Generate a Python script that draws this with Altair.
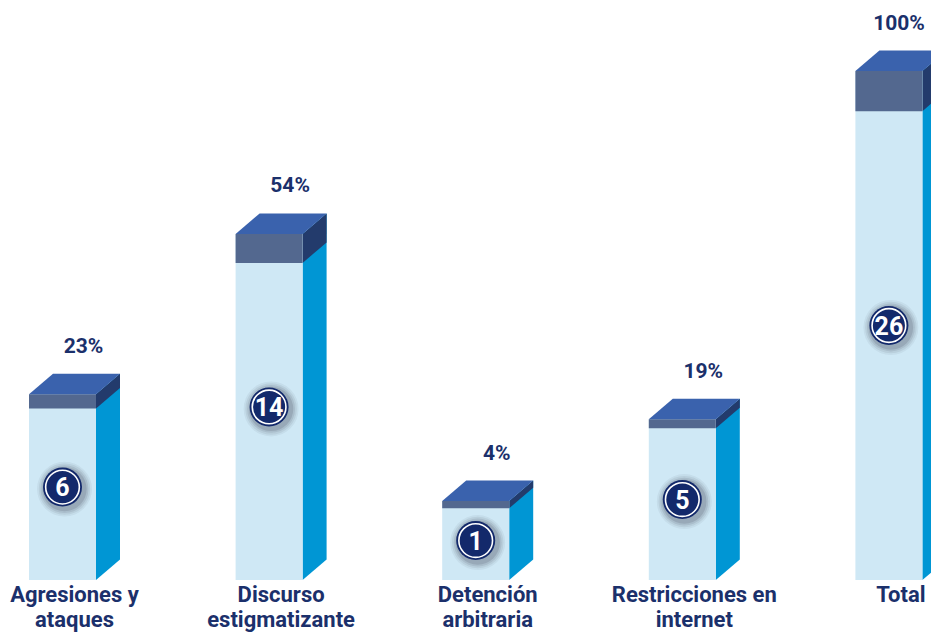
import altair as alt
import pandas as pd

# ---- data ----
categorias = ["Agresiones y\nataques", "Discurso\nestigmatizante", "Detención\narbitraria",
              "Restricciones en\ninternet", "Total"]
casos = [6, 14, 1, 5, 26]
porcentajes = ["23%", "54%", "4%", "19%", "100%"]
# visual bar height as drawn (percent of the tallest bar) and dark top band thickness
altura_barra = [36.5, 68.0, 15.5, 31.6, 100.0]
franja = [2.8, 5.7, 1.4, 1.8, 7.9]

# ---- layout / style ----
W, H = 923, 624
PX_X = 206.6      # px per category slot
PX_Y = 5.09       # px per height unit
X0_PX = 54.5      # px from left of first bar centre
Y0_PX = 52        # px from bottom to base line
HALF_W = 33.5 / PX_X
DX = 24 / PX_X
DY = 20.5 / PX_Y
X_MAX = (W - X0_PX) / PX_X

FRONT = "#cfe8f5"
SIDE = "#0096d4"
TOP = "#3a62ad"
BAND = "#53688f"
SIDE_DARK = "#233b6c"
NAVY = "#13296b"
TEXT = "#1b306b"
FONT = "Roboto"

xs = alt.Scale(domain=[-X0_PX / PX_X, X_MAX], nice=False, zero=False)
ys = alt.Scale(domain=[-Y0_PX / PX_Y, (H - Y0_PX) / PX_Y], nice=False, zero=False)

base_rows, side_rows, dark_rows, top_rows = [], [], [], []
for i, (c, n, p, h, b) in enumerate(zip(categorias, casos, porcentajes, altura_barra, franja)):
    xl, xr = i - HALF_W, i + HALF_W
    # percent label sits over the top face, kept inside the chart at the right edge
    xpct = min(i + 21 / PX_X, X_MAX - 32 / PX_X)
    base_rows.append(dict(cat=c, n=str(n), pct=p, xc=i, xl=xl, xr=xr, y0=0, h=h, hb=h - b,
                          ymid=h * 0.5, xlab=i + DX / 2, xpct=xpct, ypct=h + DY))
    side_rows += [dict(cat=c, x=xr, ylo=0, yhi=h), dict(cat=c, x=xr + DX, ylo=DY, yhi=h + DY)]
    dark_rows += [dict(cat=c, x=xr, ylo=h - b, yhi=h), dict(cat=c, x=xr + DX, ylo=h - b + DY, yhi=h + DY)]
    top_rows += [dict(cat=c, y=h, xlo=xl, xhi=xr), dict(cat=c, y=h + DY, xlo=xl + DX, xhi=xr + DX)]

bars = pd.DataFrame(base_rows)
side = pd.DataFrame(side_rows)
dark = pd.DataFrame(dark_rows)
top = pd.DataFrame(top_rows)

X = lambda f: alt.X(f, type="quantitative", scale=xs, axis=None)
Y = lambda f: alt.Y(f, type="quantitative", scale=ys, axis=None)

side_l = alt.Chart(side).mark_area(orient="vertical", color=SIDE).encode(
    x=X("x"), y=Y("ylo"), y2="yhi", detail="cat:N")
dark_l = alt.Chart(dark).mark_area(orient="vertical", color=SIDE_DARK).encode(
    x=X("x"), y=Y("ylo"), y2="yhi", detail="cat:N")
front_l = alt.Chart(bars).mark_rect(color=FRONT).encode(x=X("xl"), x2="xr", y=Y("y0"), y2="h")
band_l = alt.Chart(bars).mark_rect(color=BAND).encode(x=X("xl"), x2="xr", y=Y("hb"), y2="h")
top_l = alt.Chart(top).mark_area(orient="horizontal", color=TOP).encode(
    y=Y("y"), x=X("xlo"), x2="xhi", detail="cat:N")

shadows = []
for r, op in [(31, 0.05), (29, 0.07), (27, 0.09), (25, 0.12)]:
    shadows.append(alt.Chart(bars).mark_circle(color="#1a1a2a", opacity=op, size=3.1416 * r * r,
                                               xOffset=2, yOffset=2).encode(x=X("xc"), y=Y("ymid")))
circle_l = alt.Chart(bars).mark_circle(color=NAVY, opacity=1, size=3.1416 * 22 * 22).encode(
    x=X("xc"), y=Y("ymid"))
ring_l = alt.Chart(bars).mark_point(shape="circle", filled=False, color="white", strokeWidth=1.6,
                                    opacity=1, size=3.1416 * 19 * 19).encode(x=X("xc"), y=Y("ymid"))
num_l = alt.Chart(bars).mark_text(font=FONT, fontWeight="bold", fontSize=25, color="white",
                                  baseline="middle", dy=1).encode(x=X("xc"), y=Y("ymid"), text="n:N")
pct_l = alt.Chart(bars).mark_text(font=FONT, fontWeight="bold", fontSize=21, color=TEXT,
                                  baseline="alphabetic", dy=-21).encode(x=X("xpct"), y=Y("ypct"), text="pct:N")
lab_l = alt.Chart(bars).mark_text(font=FONT, fontWeight="bold", fontSize=22, color=TEXT,
                                  baseline="alphabetic", lineBreak="\n", lineHeight=25, dy=22).encode(
    x=X("xlab"), y=Y("y0"), text="cat:N")

chart = alt.layer(side_l, dark_l, front_l, band_l, top_l, *shadows, circle_l, ring_l, num_l, pct_l, lab_l).properties(
    width=W, height=H, padding=0, autosize=alt.AutoSizeParams(type="none")
).configure(background="white", view=alt.ViewConfig(stroke=None))

chart.save("out.html", embed_options={"renderer": "svg", "actions": False})
